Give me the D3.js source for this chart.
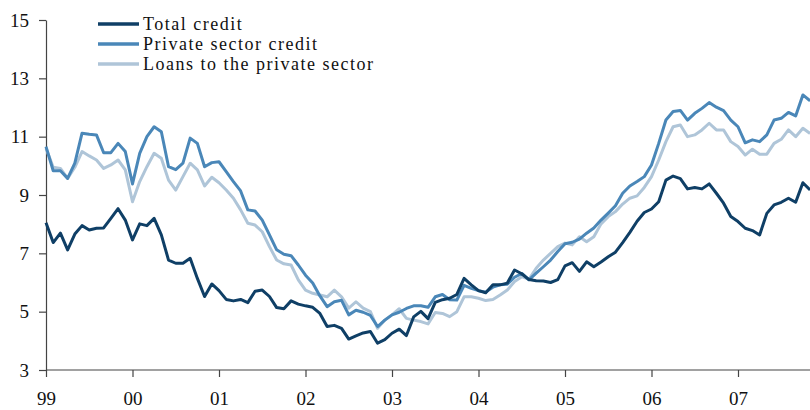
<!DOCTYPE html>
<html>
<head>
<meta charset="utf-8">
<script src="https://cdn.jsdelivr.net/npm/d3@7"></script>
<style>
  body { margin: 0; background: #fff; }
  svg { display: block; font-family: "Liberation Serif", "Times New Roman", serif; }
</style>
</head>
<body>
<svg width="810" height="410"></svg>
<script>
// monthly, Jan 1999 onwards
var totalCredit = [
  8.05, 7.37, 7.69, 7.12, 7.66, 7.95, 7.80, 7.86, 7.87, 8.20, 8.53, 8.14,
  7.46, 8.01, 7.95, 8.20, 7.63, 6.77, 6.66, 6.66, 6.83, 6.14, 5.52, 5.95,
  5.72, 5.42, 5.37, 5.42, 5.31, 5.70, 5.74, 5.52, 5.14, 5.10, 5.37, 5.26,
  5.20, 5.15, 4.94, 4.49, 4.53, 4.43, 4.06, 4.17, 4.27, 4.32, 3.92, 4.04,
  4.26, 4.40, 4.18, 4.82, 5.01, 4.76, 5.32, 5.41, 5.46, 5.59, 6.14, 5.92,
  5.72, 5.65, 5.92, 5.92, 5.98, 6.43, 6.30, 6.10, 6.06, 6.05, 6.00, 6.10,
  6.57, 6.68, 6.38, 6.71, 6.54, 6.70, 6.88, 7.04, 7.37, 7.72, 8.10, 8.40,
  8.52, 8.77, 9.51, 9.65, 9.56, 9.21, 9.26, 9.21, 9.38, 9.06, 8.72, 8.26,
  8.09, 7.86, 7.78, 7.63, 8.37, 8.66, 8.75, 8.89, 8.75, 9.42, 9.17
];
var privateCredit = [
  10.66, 9.83, 9.83, 9.57, 10.09, 11.12, 11.08, 11.06, 10.45, 10.45, 10.77, 10.49,
  9.38, 10.43, 11.00, 11.34, 11.17, 9.97, 9.87, 10.09, 10.95, 10.77, 9.97, 10.11,
  10.14, 9.80, 9.46, 9.14, 8.49, 8.45, 8.14, 7.63, 7.12, 6.97, 6.92, 6.60,
  6.25, 5.98, 5.54, 5.17, 5.34, 5.39, 4.89, 5.05, 4.98, 4.87, 4.49, 4.71,
  4.89, 4.98, 5.11, 5.20, 5.20, 5.15, 5.51, 5.59, 5.41, 5.40, 5.90, 5.80,
  5.72, 5.67, 5.84, 5.92, 5.94, 6.18, 6.31, 6.09, 6.32, 6.54, 6.77, 7.06,
  7.33, 7.38, 7.49, 7.69, 7.87, 8.14, 8.38, 8.63, 9.06, 9.31, 9.46, 9.63,
  10.03, 10.77, 11.57, 11.86, 11.90, 11.57, 11.80, 11.97, 12.17, 12.01, 11.89, 11.57,
  11.34, 10.79, 10.89, 10.83, 11.06, 11.57, 11.63, 11.83, 11.71, 12.43, 12.23
];
var loansPrivate = [
  10.60, 9.95, 9.91, 9.57, 9.95, 10.49, 10.34, 10.20, 9.91, 10.03, 10.20, 9.86,
  8.77, 9.46, 9.97, 10.43, 10.26, 9.51, 9.17, 9.63, 10.09, 9.86, 9.31, 9.61,
  9.42, 9.17, 8.89, 8.49, 8.03, 7.97, 7.74, 7.23, 6.77, 6.64, 6.60, 6.09,
  5.74, 5.63, 5.57, 5.51, 5.74, 5.51, 5.12, 5.34, 5.12, 5.00, 4.43, 4.71,
  4.89, 5.10, 4.77, 4.71, 4.66, 4.58, 4.97, 4.94, 4.83, 5.00, 5.51, 5.51,
  5.46, 5.38, 5.42, 5.57, 5.74, 6.03, 6.20, 6.11, 6.49, 6.77, 7.00, 7.23,
  7.35, 7.29, 7.57, 7.40, 7.57, 8.01, 8.26, 8.43, 8.69, 8.89, 8.97, 9.26,
  9.63, 10.20, 10.83, 11.34, 11.40, 11.00, 11.06, 11.23, 11.46, 11.23, 11.23, 10.83,
  10.66, 10.37, 10.57, 10.40, 10.40, 10.77, 10.91, 11.23, 11.00, 11.29, 11.11
];
var yearLabels = ['99', '00', '01', '02', '03', '04', '05', '06', '07'];
var yTicks = [3, 5, 7, 9, 11, 13, 15];
var seriesNames = ['Total credit', 'Private sector credit', 'Loans to the private sector'];

var svg = d3.select('svg');
var colors = ['#0f3f66', '#4a87b8', '#afc5d8'];

var x = d3.scaleLinear().domain([0, 96]).range([46, 738]);
var y = d3.scaleLinear().domain([3, 15]).range([370, 20]);

var yAxis = svg.append('g')
  .attr('transform', 'translate(46,0)')
  .call(d3.axisLeft(y).tickValues(yTicks).tickSize(7).tickPadding(10).tickSizeOuter(0));

var xAxis = svg.append('g')
  .attr('transform', 'translate(0,370)')
  .call(d3.axisBottom(x)
    .tickValues(yearLabels.map((d, i) => i * 12))
    .tickFormat((d, i) => yearLabels[i])
    .tickSize(7).tickPadding(15).tickSizeOuter(0));
xAxis.select('.domain').attr('d', 'M46,0H810');

[yAxis, xAxis].forEach(g => {
  g.selectAll('path, line').attr('stroke', '#444').attr('stroke-width', 1.2);
  g.selectAll('text').attr('font-family', '"Liberation Serif", serif')
    .attr('font-size', 19).attr('fill', '#111');
});

var line = d3.line()
  .x((d, i) => x(i))
  .y(d => y(d));

// draw light first so dark sits on top
[loansPrivate, privateCredit, totalCredit].forEach((s, k) => {
  svg.append('path')
    .attr('d', line(s))
    .attr('fill', 'none')
    .attr('stroke', colors[2 - k])
    .attr('stroke-width', 3)
    .attr('stroke-linejoin', 'round');
});

var legend = svg.append('g');
seriesNames.forEach((name, i) => {
  var ly = 24 + i * 20;
  legend.append('line')
    .attr('x1', 98).attr('x2', 139).attr('y1', ly).attr('y2', ly)
    .attr('stroke', colors[i]).attr('stroke-width', 3.5);
  legend.append('text')
    .attr('x', 143).attr('y', ly + 6)
    .attr('font-size', 18).attr('letter-spacing', 1.5).attr('fill', '#111')
    .text(name);
});
</script>
</body>
</html>
